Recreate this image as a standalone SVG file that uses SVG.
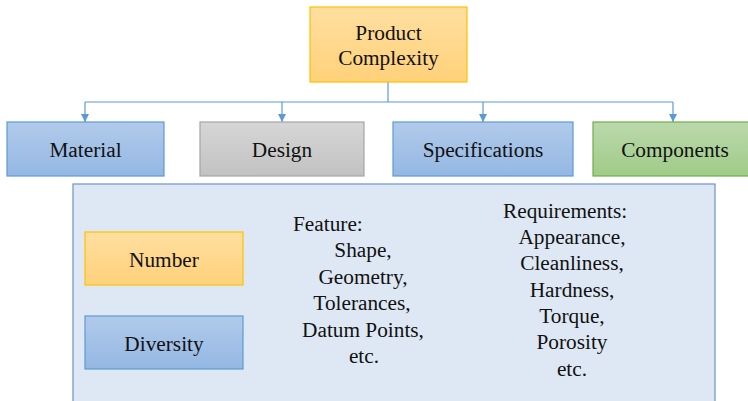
<svg xmlns="http://www.w3.org/2000/svg" width="748" height="401" viewBox="0 0 748 401">
  <defs>
    <linearGradient id="gOrange" x1="0" y1="0" x2="0" y2="1">
      <stop offset="0" stop-color="#FFDFA0"/>
      <stop offset="1" stop-color="#FFD17A"/>
    </linearGradient>
    <linearGradient id="gBlue" x1="0" y1="0" x2="0" y2="1">
      <stop offset="0" stop-color="#B1CAEA"/>
      <stop offset="1" stop-color="#94B8E3"/>
    </linearGradient>
    <linearGradient id="gGray" x1="0" y1="0" x2="0" y2="1">
      <stop offset="0" stop-color="#D6D6D6"/>
      <stop offset="1" stop-color="#C2C2C2"/>
    </linearGradient>
    <linearGradient id="gGreen" x1="0" y1="0" x2="0" y2="1">
      <stop offset="0" stop-color="#BBD9AC"/>
      <stop offset="1" stop-color="#A0CB88"/>
    </linearGradient>
    <marker id="arrow" viewBox="0 0 8 8" refX="8" refY="4" markerWidth="8" markerHeight="8" markerUnits="userSpaceOnUse" orient="auto">
      <path d="M0,0 L8,4 L0,8 Z" fill="#5B9BD5"/>
    </marker>
  </defs>
  <style>
    text { font-family: "Liberation Serif", "Times New Roman", serif; font-size: 21.3px; fill: #111; }
    .c { text-anchor: middle; }
    .orange { fill: url(#gOrange); stroke: #FFC000; stroke-width: 1.2; }
    .blue { fill: url(#gBlue); stroke: #5B9BD5; stroke-width: 1.2; }
    .gray { fill: url(#gGray); stroke: #A5A5A5; stroke-width: 1.2; }
    .green { fill: url(#gGreen); stroke: #70AD47; stroke-width: 1.2; }
    .link { fill: none; stroke: #5B9BD5; stroke-width: 1.2; }
  </style>

  <!-- detail panel -->
  <g id="panel">
    <rect x="73" y="184" width="642" height="230" fill="#DEE8F4" stroke="#6E93C2" stroke-width="1.2"/>
  </g>

  <!-- connectors -->
  <g id="connectors">
    <path class="link" d="M388,82 V102"/>
    <path class="link" d="M85,102 H673"/>
    <path class="link" d="M85,102 V122" marker-end="url(#arrow)"/>
    <path class="link" d="M282,102 V122" marker-end="url(#arrow)"/>
    <path class="link" d="M483,102 V122" marker-end="url(#arrow)"/>
    <path class="link" d="M673,102 V122" marker-end="url(#arrow)"/>
  </g>

  <g id="product-complexity">
    <rect class="orange" x="310" y="7" width="157" height="75"/>
    <text class="c" x="388.5" y="40">Product</text>
    <text class="c" x="388.5" y="65">Complexity</text>
  </g>

  <g id="material">
    <rect class="blue" x="7" y="122" width="157" height="54"/>
    <text class="c" x="85.5" y="157">Material</text>
  </g>

  <g id="design">
    <rect class="gray" x="200" y="122" width="164" height="54"/>
    <text class="c" x="282" y="157">Design</text>
  </g>

  <g id="specifications">
    <rect class="blue" x="393" y="122" width="180" height="54"/>
    <text class="c" x="483" y="157">Specifications</text>
  </g>

  <g id="components">
    <rect class="green" x="593" y="122" width="160" height="54"/>
    <text class="c" x="675" y="157">Components</text>
  </g>

  <g id="number">
    <rect class="orange" x="85" y="232" width="158" height="53"/>
    <text class="c" x="164" y="267">Number</text>
  </g>

  <g id="diversity">
    <rect class="blue" x="85" y="316" width="158" height="53"/>
    <text class="c" x="164" y="351">Diversity</text>
  </g>

  <g id="feature">
    <text x="293" y="231">Feature:</text>
    <text class="c" x="363" y="257">Shape,</text>
    <text class="c" x="363" y="284">Geometry,</text>
    <text class="c" x="362" y="310">Tolerances,</text>
    <text class="c" x="363" y="337">Datum Points,</text>
    <text class="c" x="364" y="363">etc.</text>
  </g>

  <g id="requirements">
    <text x="503" y="218">Requirements:</text>
    <text class="c" x="572" y="244">Appearance,</text>
    <text class="c" x="572" y="270">Cleanliness,</text>
    <text class="c" x="572" y="297">Hardness,</text>
    <text class="c" x="572" y="323">Torque,</text>
    <text class="c" x="572" y="349">Porosity</text>
    <text class="c" x="572" y="376">etc.</text>
  </g>
</svg>
